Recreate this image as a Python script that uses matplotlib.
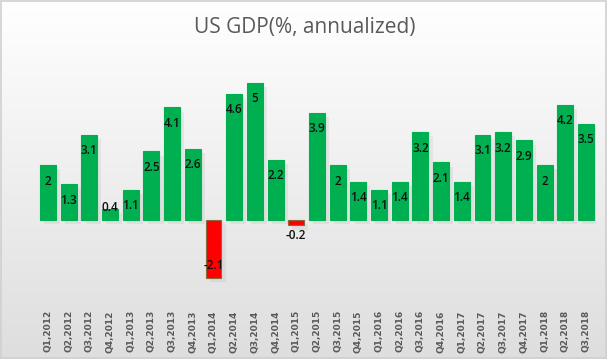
import numpy as np
import matplotlib
matplotlib.use('Agg')
import matplotlib.pyplot as plt
import matplotlib.patheffects as pe

# ################ data
quarters = ['Q1', 'Q2', 'Q3', 'Q4']
years = ['2012', '2013', '2014', '2015', '2016', '2017', '2018']
labels = [q + ',' + y for y in years for q in quarters][:27]
gdp = [2, 1.3, 3.1, 0.4, 1.1, 2.5, 4.1, 2.6, -2.1, 4.6, 5, 2.2, -0.2, 3.9,
       2, 1.4, 1.1, 1.4, 3.2, 2.1, 1.4, 3.1, 3.2, 2.9, 2, 4.2, 3.5]

W, H = 607, 359
fig = plt.figure(figsize=(W / 100, H / 100), dpi=100)

# ################ background gradient
bg = fig.add_axes([0, 0, 1, 1])
grad = np.linspace(1.0, 0.87, 256).reshape(-1, 1)
img = np.dstack([grad, grad, grad])
bg.imshow(img, aspect='auto', extent=[0, 1, 0, 1], origin='upper')
bg.set_xlim(0, 1)
bg.set_ylim(0, 1)
bg.axis('off')
bg.add_patch(plt.Rectangle((0.001, 0.002), 0.997, 0.995, fill=False,
                           edgecolor='#d0d0d0', lw=1.2))

# ################ bars
x0, x1 = 37.6, 596.3
ylo, yhi = -2.5, 5.5
scale = 27.45
base = 220
top_px = base - yhi * scale
bot_px = base - ylo * scale
ax = fig.add_axes([x0 / W, 1 - bot_px / H, (x1 - x0) / W, (bot_px - top_px) / H])
ax.set_xlim(-0.5, 26.5)
ax.set_ylim(ylo, yhi)
ax.patch.set_alpha(0)
for s in ax.spines.values():
    s.set_visible(False)
ax.tick_params(left=False, labelleft=False, bottom=False)

xs = np.arange(len(gdp))
colors = ['#00b050' if v >= 0 else '#ff0000' for v in gdp]
edges = ['#00b050' if v >= 0 else '#8a6a3a' for v in gdp]
bars = ax.bar(xs, gdp, width=0.77, color=colors, edgecolor=edges, linewidth=0.8, zorder=3)
for b in bars:
    b.set_path_effects([pe.SimplePatchShadow(offset=(3, -3), shadow_rgbFace='#888888', alpha=0.12),
                        pe.Normal()])

for x, v in zip(xs, gdp):
    if v >= 0:
        y = max(v - 0.58, 0.47)
    elif v < -1:
        y = v + 0.46
    else:
        y = v - 0.37
    ax.text(x, y, '%g' % v, ha='center', va='center', fontsize=8.5,
            family='Open Sans', fontweight='semibold', color='#111111', zorder=4)

ax.set_xticks(xs)
ax.set_xticklabels(labels, rotation=90, fontsize=6.5, fontweight='bold',
                   color='#595959', family='DejaVu Sans')
ax.tick_params(axis='x', pad=12)

fig.text(305 / W, 1 - 28 / H, 'US GDP(%, annualized)', ha='center', va='center',
         fontsize=15, family='Open Sans', color='#595959')

fig.savefig('out.png', dpi=100)
